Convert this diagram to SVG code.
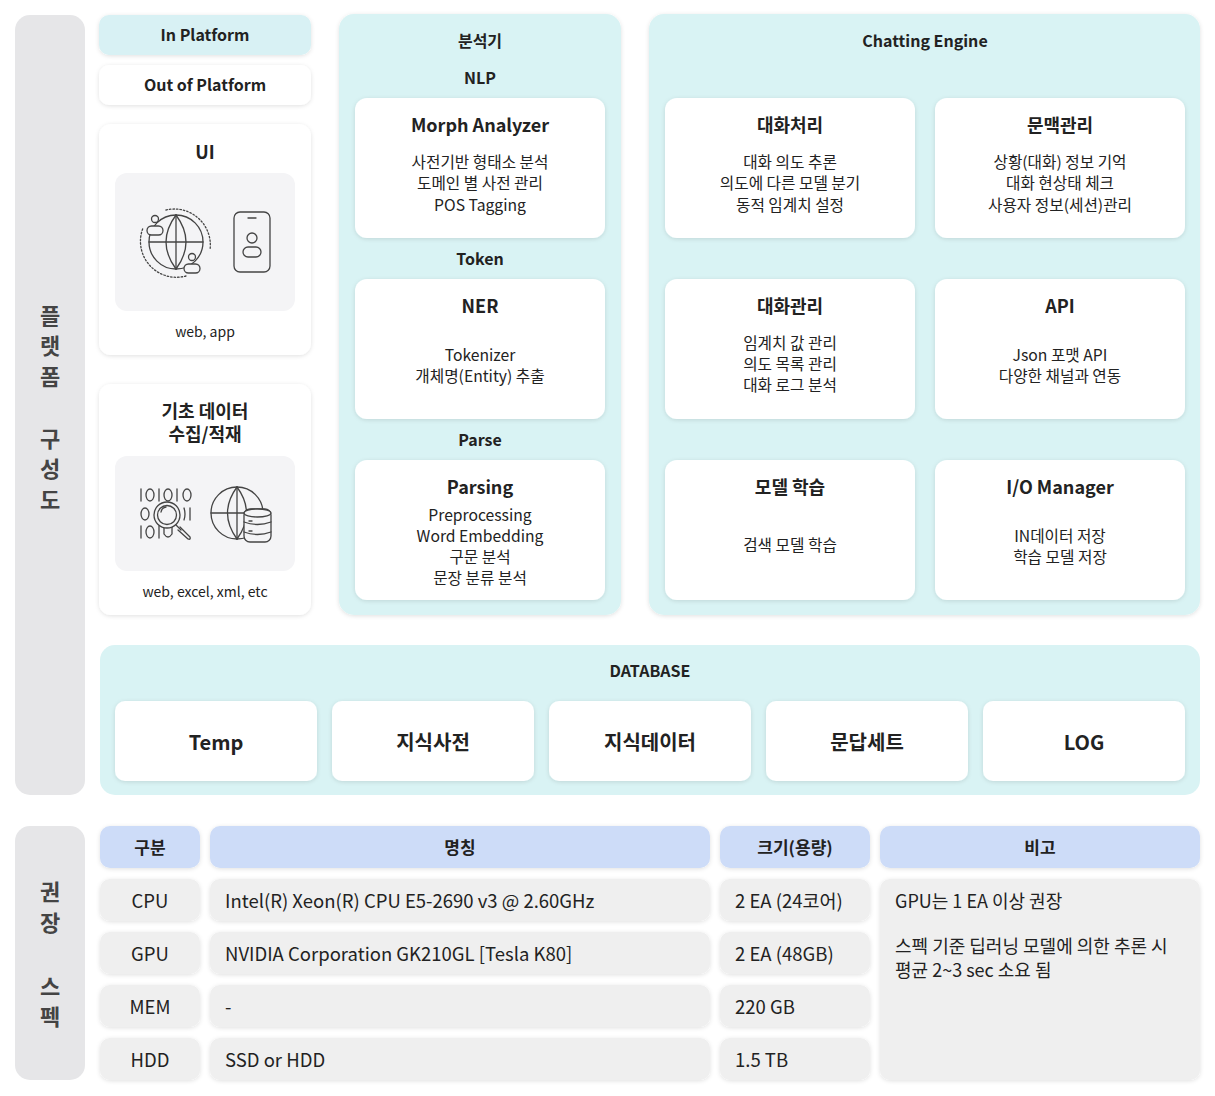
<svg xmlns="http://www.w3.org/2000/svg" width="1215" height="1096" viewBox="0 0 1215 1096">
<defs>
<filter id="sh" x="-10%" y="-10%" width="120%" height="130%">
<feDropShadow dx="0" dy="1" stdDeviation="2" flood-color="#000" flood-opacity="0.12"/>
</filter>
<style>
text{font-family:"Noto Sans CJK KR","Noto Sans",sans-serif;fill:#222;text-anchor:middle;}
.side{fill:#e6e6e8;}
.sideT{font-size:22px;font-weight:700;fill:#444;}
.panel{fill:#d9f3f4;filter:url(#sh);}
.card{fill:#fff;filter:url(#sh);}
.inner{fill:#f4f4f6;}
.hdr{fill:#cddcf8;filter:url(#sh);}
.cell{fill:#efefef;filter:url(#sh);}
.pt{font-size:16px;font-weight:700;}
.sec{font-size:16px;font-weight:700;}
.ct{font-size:18px;font-weight:700;}
.cb{font-size:15.7px;}
.small{font-size:14px;}
.db{font-size:20px;font-weight:700;}
.th{font-size:17px;font-weight:700;}
.td{font-size:18.5px;}
.nt{font-size:18px;}
.l{text-anchor:start;}
.ic{fill:none;stroke:#444;stroke-width:1.3;stroke-linecap:round;stroke-linejoin:round;}
</style>
</defs>

<g id="sidebar-platform">
<rect class="side" x="15" y="15" width="70" height="780" rx="15"/>
<text class="sideT"><tspan x="50" y="324">플</tspan><tspan x="50" y="354">랫</tspan><tspan x="50" y="385">폼</tspan><tspan x="50" y="447">구</tspan><tspan x="50" y="477">성</tspan><tspan x="50" y="508">도</tspan></text>
</g>

<g id="in-platform">
<rect x="99" y="15" width="212" height="40" rx="10" fill="#d8f1f4" filter="url(#sh)"/>
<text class="sec" x="205" y="41">In Platform</text>
</g>
<g id="out-platform">
<rect class="card" x="99" y="65" width="212" height="40" rx="10"/>
<text class="sec" x="205" y="91">Out of Platform</text>
</g>

<g id="ui">
<rect class="card" x="99" y="124" width="212" height="231" rx="12"/>
<text class="ct" x="205" y="159">UI</text>
<rect class="inner" x="115" y="173" width="180" height="138" rx="12"/>
<g class="ic">
<circle cx="176" cy="242" r="27"/>
<line x1="149" y1="242" x2="203" y2="242"/>
<line x1="176" y1="215" x2="176" y2="269"/>
<path d="M176 215 Q196 242 176 269"/>
<path d="M176 215 Q156 242 176 269"/>
<path d="M166 210 A36 36 0 0 1 210 250" stroke-dasharray="1.5 2"/>
<path d="M186 276 A36 36 0 0 1 143 228" stroke-dasharray="1.5 2"/>
<circle cx="155" cy="219" r="3.5" fill="#f4f4f6"/>
<rect x="147" y="226" width="16" height="9" rx="4.5" fill="#f4f4f6"/>
<circle cx="192" cy="257" r="3.5" fill="#f4f4f6"/>
<rect x="184" y="264" width="16" height="9" rx="4.5" fill="#f4f4f6"/>
<rect x="234" y="212" width="36" height="60" rx="6"/>
<line x1="248" y1="218" x2="256" y2="218"/>
<circle cx="252" cy="238" r="5"/>
<rect x="243" y="247" width="18" height="10" rx="5"/>
</g>
<text class="small" x="205" y="337">web, app</text>
</g>

<g id="data-collect">
<rect class="card" x="99" y="384" width="212" height="231" rx="12"/>
<text class="ct" x="205" y="418">기초 데이터</text>
<text class="ct" x="205" y="441">수집/적재</text>
<rect class="inner" x="115" y="456" width="180" height="115" rx="12"/>
<g class="ic">
<line x1="141" y1="489" x2="141" y2="501"/>
<ellipse cx="150" cy="495" rx="4" ry="6"/>
<line x1="159" y1="489" x2="159" y2="501"/>
<ellipse cx="168" cy="495" rx="4" ry="6"/>
<line x1="177" y1="489" x2="177" y2="501"/>
<ellipse cx="187" cy="495" rx="4" ry="6"/>
<ellipse cx="145" cy="514" rx="4" ry="6"/>
<line x1="190" y1="508" x2="190" y2="520"/>
<path d="M184 508 Q186 514 184 520"/>
<line x1="141" y1="526" x2="141" y2="538"/>
<ellipse cx="150" cy="532" rx="4" ry="6"/>
<line x1="159" y1="526" x2="159" y2="538"/>
<path d="M164 527 L164 534 Q168 540 172 534 L172 527"/>
<circle cx="167" cy="515" r="13" fill="#f4f4f6"/>
<circle cx="167" cy="515" r="9.5"/>
<path d="M161 512 A6 6 0 0 1 166 507"/>
<path d="M176 525 L181 530"/>
<path d="M180 527 L190 537 Q191 540 188 539 L178 530"/>
<circle cx="237" cy="513" r="26"/>
<line x1="211" y1="513" x2="263" y2="513"/>
<line x1="237" y1="487" x2="237" y2="539"/>
<path d="M237 487 Q256 513 237 539"/>
<path d="M237 487 Q218 513 237 539"/>
<rect x="244" y="509" width="27" height="33" rx="6" fill="#f4f4f6"/>
<ellipse cx="257.5" cy="513" rx="13.5" ry="4" fill="#f4f4f6"/>
<path d="M244 522 Q257.5 527 271 522"/>
<path d="M244 532 Q257.5 537 271 532"/>
<line x1="249" y1="521" x2="252" y2="521"/>
<line x1="249" y1="531" x2="252" y2="531"/>
</g>
<text class="small" x="205" y="597">web, excel, xml, etc</text>
</g>

<g id="analyzer">
<rect class="panel" x="339" y="14" width="282" height="601" rx="15"/>
<text class="pt" x="480" y="47">분석기</text>
<text class="sec" x="480" y="84">NLP</text>
<text class="sec" x="480" y="265">Token</text>
<text class="sec" x="480" y="446">Parse</text>
</g>
<g id="morph">
<rect class="card" x="355" y="98" width="250" height="140" rx="12"/>
<text class="ct" x="480" y="132">Morph Analyzer</text>
<text class="cb" x="480" y="168">사전기반 형태소 분석</text>
<text class="cb" x="480" y="189">도메인 별 사전 관리</text>
<text class="cb" x="480" y="211">POS Tagging</text>
</g>
<g id="ner">
<rect class="card" x="355" y="279" width="250" height="140" rx="12"/>
<text class="ct" x="480" y="313">NER</text>
<text class="cb" x="480" y="361">Tokenizer</text>
<text class="cb" x="480" y="382">개체명(Entity) 추출</text>
</g>
<g id="parsing">
<rect class="card" x="355" y="460" width="250" height="140" rx="12"/>
<text class="ct" x="480" y="494">Parsing</text>
<text class="cb" x="480" y="521">Preprocessing</text>
<text class="cb" x="480" y="542">Word Embedding</text>
<text class="cb" x="480" y="563">구문 분석</text>
<text class="cb" x="480" y="584">문장 분류 분석</text>
</g>

<g id="chatting-engine">
<rect class="panel" x="649" y="14" width="551" height="601" rx="15"/>
<text class="pt" x="925" y="47">Chatting Engine</text>
</g>
<g id="dialog-proc">
<rect class="card" x="665" y="98" width="250" height="140" rx="12"/>
<text class="ct" x="790" y="132">대화처리</text>
<text class="cb" x="790" y="168">대화 의도 추론</text>
<text class="cb" x="790" y="189">의도에 다른 모델 분기</text>
<text class="cb" x="790" y="211">동적 임계치 설정</text>
</g>
<g id="context">
<rect class="card" x="935" y="98" width="250" height="140" rx="12"/>
<text class="ct" x="1060" y="132">문맥관리</text>
<text class="cb" x="1060" y="168">상황(대화) 정보 기억</text>
<text class="cb" x="1060" y="189">대화 현상태 체크</text>
<text class="cb" x="1060" y="211">사용자 정보(세션)관리</text>
</g>
<g id="dialog-mgmt">
<rect class="card" x="665" y="279" width="250" height="140" rx="12"/>
<text class="ct" x="790" y="313">대화관리</text>
<text class="cb" x="790" y="349">임계치 값 관리</text>
<text class="cb" x="790" y="370">의도 목록 관리</text>
<text class="cb" x="790" y="391">대화 로그 분석</text>
</g>
<g id="api">
<rect class="card" x="935" y="279" width="250" height="140" rx="12"/>
<text class="ct" x="1060" y="313">API</text>
<text class="cb" x="1060" y="361">Json 포맷 API</text>
<text class="cb" x="1060" y="382">다양한 채널과 연동</text>
</g>
<g id="model-train">
<rect class="card" x="665" y="460" width="250" height="140" rx="12"/>
<text class="ct" x="790" y="494">모델 학습</text>
<text class="cb" x="790" y="551">검색 모델 학습</text>
</g>
<g id="io-manager">
<rect class="card" x="935" y="460" width="250" height="140" rx="12"/>
<text class="ct" x="1060" y="494">I/O Manager</text>
<text class="cb" x="1060" y="542">IN데이터 저장</text>
<text class="cb" x="1060" y="563">학습 모델 저장</text>
</g>

<g id="database">
<rect x="100" y="645" width="1100" height="150" rx="15" fill="#d9f3f4"/>
<text class="pt" x="650" y="677">DATABASE</text>
<rect class="card" x="115" y="701" width="202" height="80" rx="10"/>
<text class="db" x="216" y="750">Temp</text>
<rect class="card" x="332" y="701" width="202" height="80" rx="10"/>
<text class="db" x="433" y="750">지식사전</text>
<rect class="card" x="549" y="701" width="202" height="80" rx="10"/>
<text class="db" x="650" y="750">지식데이터</text>
<rect class="card" x="766" y="701" width="202" height="80" rx="10"/>
<text class="db" x="867" y="750">문답세트</text>
<rect class="card" x="983" y="701" width="202" height="80" rx="10"/>
<text class="db" x="1084" y="750">LOG</text>
</g>

<g id="sidebar-spec">
<rect class="side" x="15" y="826" width="70" height="254" rx="15"/>
<text class="sideT"><tspan x="50" y="900">권</tspan><tspan x="50" y="931">장</tspan><tspan x="50" y="995">스</tspan><tspan x="50" y="1025">펙</tspan></text>
</g>

<g id="spec-table">
<rect class="hdr" x="100" y="826" width="100" height="42" rx="10"/>
<text class="th" x="150" y="854">구분</text>
<rect class="hdr" x="210" y="826" width="500" height="42" rx="10"/>
<text class="th" x="460" y="854">명칭</text>
<rect class="hdr" x="720" y="826" width="150" height="42" rx="10"/>
<text class="th" x="795" y="854">크기(용량)</text>
<rect class="hdr" x="880" y="826" width="320" height="42" rx="10"/>
<text class="th" x="1040" y="854">비고</text>

<rect class="cell" x="100" y="879" width="100" height="42" rx="10"/>
<text class="td" x="150" y="908">CPU</text>
<rect class="cell" x="210" y="879" width="500" height="42" rx="10"/>
<text class="td l" x="225" y="908">Intel(R) Xeon(R) CPU E5-2690 v3 @ 2.60GHz</text>
<rect class="cell" x="720" y="879" width="150" height="42" rx="10"/>
<text class="td l" x="735" y="908">2 EA (24코어)</text>

<rect class="cell" x="100" y="932" width="100" height="42" rx="10"/>
<text class="td" x="150" y="961">GPU</text>
<rect class="cell" x="210" y="932" width="500" height="42" rx="10"/>
<text class="td l" x="225" y="961">NVIDIA Corporation GK210GL [Tesla K80]</text>
<rect class="cell" x="720" y="932" width="150" height="42" rx="10"/>
<text class="td l" x="735" y="961">2 EA (48GB)</text>

<rect class="cell" x="100" y="985" width="100" height="42" rx="10"/>
<text class="td" x="150" y="1014">MEM</text>
<rect class="cell" x="210" y="985" width="500" height="42" rx="10"/>
<text class="td l" x="225" y="1014">-</text>
<rect class="cell" x="720" y="985" width="150" height="42" rx="10"/>
<text class="td l" x="735" y="1014">220 GB</text>

<rect class="cell" x="100" y="1038" width="100" height="42" rx="10"/>
<text class="td" x="150" y="1067">HDD</text>
<rect class="cell" x="210" y="1038" width="500" height="42" rx="10"/>
<text class="td l" x="225" y="1067">SSD or HDD</text>
<rect class="cell" x="720" y="1038" width="150" height="42" rx="10"/>
<text class="td l" x="735" y="1067">1.5 TB</text>

<rect class="cell" x="880" y="879" width="320" height="201" rx="10"/>
<text class="nt l" x="895" y="908">GPU는 1 EA 이상 권장</text>
<text class="nt l" x="895" y="953">스펙 기준 딥러닝 모델에 의한 추론 시</text>
<text class="nt l" x="895" y="977">평균 2~3 sec 소요 됨</text>
</g>

<g id="connectors"></g>
</svg>
